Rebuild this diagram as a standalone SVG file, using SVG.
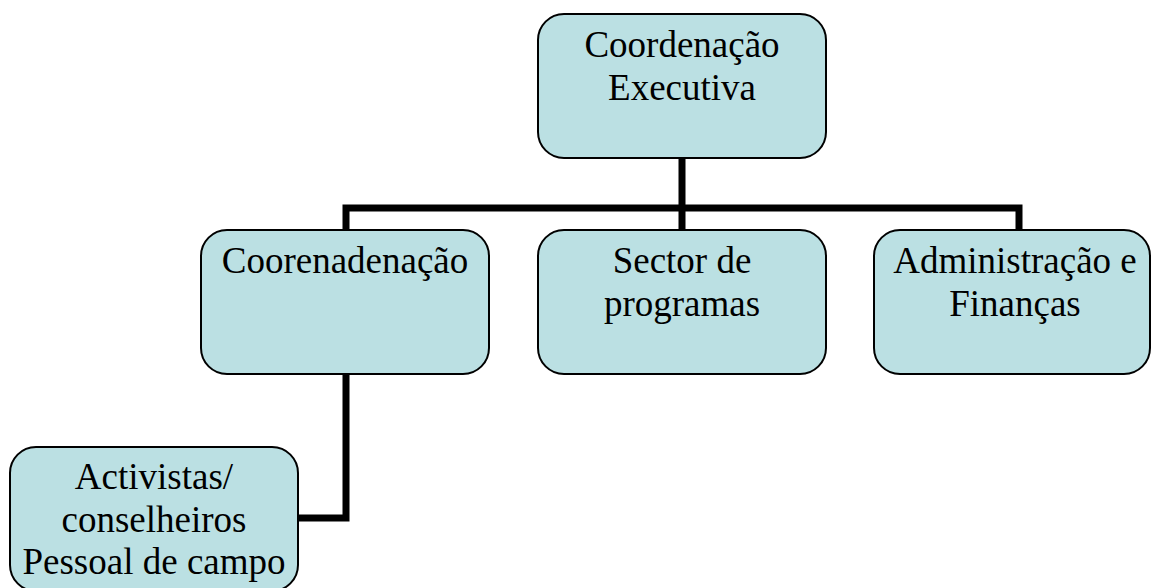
<svg xmlns="http://www.w3.org/2000/svg" width="1151" height="588" viewBox="0 0 1151 588">
<style>
.box{fill:#BBE0E3;stroke:#000;stroke-width:2}
.t{font-family:"Liberation Serif","Times New Roman",serif;font-size:37px;fill:#000;text-anchor:middle}
.c{fill:none;stroke:#000;stroke-width:7;stroke-linejoin:miter}
</style>
<rect width="1151" height="588" fill="#fff"/>
<g id="connectors">
<path class="c" d="M682,158 V208 M346,230 V208 H1019 V230 M682,208 V230"/>
<path class="c" d="M346,374 V518 H297"/>
</g>
<g id="coordenacao-executiva">
<rect class="box" x="538" y="14" width="288" height="144" rx="26"/>
<text class="t" x="682" y="57">Coordenação</text>
<text class="t" x="682" y="100">Executiva</text>
</g>
<g id="coorenadenacao">
<rect class="box" x="201" y="230" width="288" height="144" rx="26"/>
<text class="t" x="345" y="273">Coorenadenação</text>
</g>
<g id="sector-programas">
<rect class="box" x="538" y="230" width="288" height="144" rx="26"/>
<text class="t" x="682" y="273">Sector de</text>
<text class="t" x="682" y="316">programas</text>
</g>
<g id="administracao-financas">
<rect class="box" x="874" y="230" width="276" height="144" rx="26"/>
<text class="t" x="1015" y="273">Administração e</text>
<text class="t" x="1015" y="316">Finanças</text>
</g>
<g id="activistas">
<rect class="box" x="10" y="447" width="288" height="144" rx="26"/>
<text class="t" x="154" y="489">Activistas/</text>
<text class="t" x="154" y="532">conselheiros</text>
<text class="t" x="154" y="574">Pessoal de campo</text>
</g>
</svg>
